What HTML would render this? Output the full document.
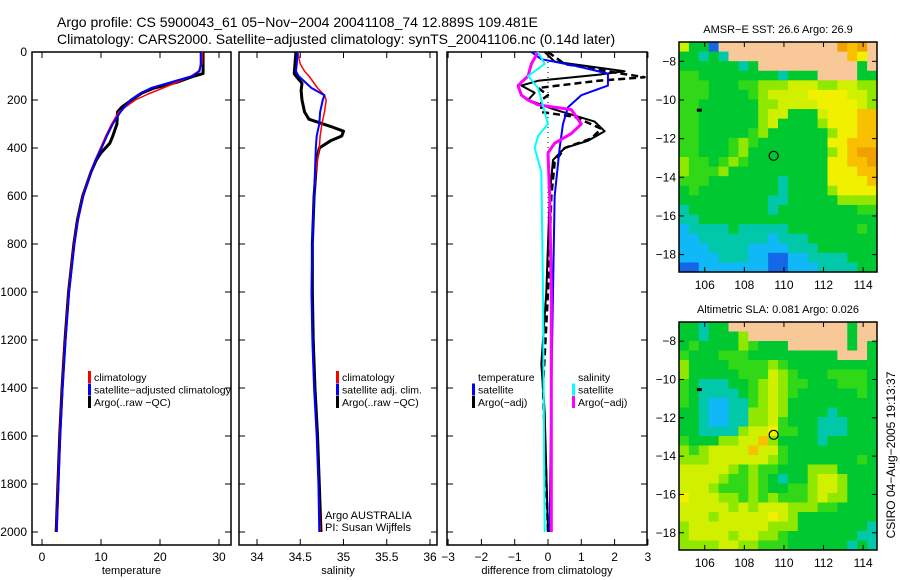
<!DOCTYPE html>
<html><head><meta charset="utf-8"><style>
body{margin:0;background:#fff;}
svg{display:block;font-family:"Liberation Sans",sans-serif;}
</style></head><body>
<svg id="s" width="900" height="580" viewBox="0 0 900 580">
<text x="57" y="27" font-size="14">Argo profile: CS 5900043_61 05−Nov−2004 20041108_74 12.889S 109.481E</text>
<text x="57" y="44" font-size="14">Climatology: CARS2000. Satellite−adjusted climatology: synTS_20041106.nc (0.14d later)</text>
</svg>
<script>
// ---- data ----
const tDepth=[0,50,80,100,125,150,175,200,250,300,350,400,450,500,600,700,800,1000,1200,1400,1600,1800,2000];
const tClim=[27.2,27.1,26.5,25.3,23,20.5,18,15.8,13,11.8,10.8,9.9,9.0,8.2,6.9,6.0,5.4,4.5,3.9,3.4,3.0,2.7,2.4];
const tSat=[26.9,26.9,26.7,25.5,22,18.5,16.5,15,13.3,12,11,10.1,9.1,8.3,7,6.1,5.5,4.6,4.0,3.5,3.1,2.8,2.5];
const tArgoDepth=[0,90,100,125,150,170,200,230,250,300,350,380,420,450,500,600,700,800,1000,1200,1400,1600,1800,2000];
const tArgo=[27.3,27.3,25.8,23,19,17,15.2,13.5,12.8,12.7,12,11.5,10,9.2,8.3,6.9,6.0,5.4,4.5,3.9,3.4,3.0,2.7,2.4];
const sDepth=[0,50,80,100,150,180,200,250,300,350,400,500,600,800,1000,1200,1400,1600,1800,2000];
const sClim=[34.47,34.5,34.55,34.6,34.7,34.78,34.8,34.78,34.75,34.73,34.72,34.68,34.66,34.64,34.63,34.64,34.66,34.69,34.71,34.73];
const sSat=[34.47,34.46,34.45,34.48,34.63,34.78,34.76,34.73,34.72,34.69,34.68,34.67,34.66,34.64,34.63,34.64,34.66,34.69,34.71,34.72];
const sArgoDepth=[0,90,100,130,160,200,250,280,310,330,350,370,400,450,600,800,1000,1200,1400,1600,1800,2000];
const sArgo=[34.45,34.43,34.45,34.52,34.51,34.52,34.55,34.6,34.85,35.0,34.98,34.85,34.72,34.69,34.66,34.64,34.64,34.65,34.67,34.7,34.72,34.74];
const dTSatDepth=[0,30,60,90,140,180,230,300,400,600,1000,1400,2000];
const dTSat=[-0.5,-0.2,0.9,1.8,1.8,1.0,0.6,0.45,0.35,0.2,0.15,0.1,0.05];
const dTArgoDepth=[0,40,80,95,120,140,170,200,240,290,330,370,400,450,600,1000,1300,1500,2000];
const dTArgo=[-0.1,0.2,2.3,1.5,-0.3,-0.8,-0.4,-0.6,0.2,1.4,1.7,1.2,0.5,0.15,0.05,-0.05,-0.2,-0.1,0];
const dTArgoDashDepth=[0,50,90,105,120,150,180,200,250,270,320,360,400,460,600,1000,1400,2000];
const dTArgoDash=[0,0.5,2.2,2.9,1.5,-0.3,0,-0.2,-0.2,0.8,1.6,1.3,0.5,0.2,0.1,0,-0.15,0];
const dSSatDepth=[0,50,100,150,200,250,300,350,400,500,1000,2000];
const dSSat=[-0.3,-0.1,-0.6,-0.3,-0.2,-0.1,0,-0.3,-0.4,-0.2,-0.15,-0.1];
const dSArgoDepth=[0,50,100,140,180,200,220,240,300,340,380,420,600,1000,2000];
const dSArgo=[-0.3,-0.5,-0.6,-0.9,-0.8,-0.6,-0.3,0.7,1.0,0.7,0.2,0,0.05,0.1,0.1];
const depthTicks=[0,200,400,600,800,1000,1200,1400,1600,1800,2000];
const tTicks=[0,10,20,30];
const sTicks=[34,34.5,35,35.5,36];
const dTicks=[-3,-2,-1,0,1,2,3];
const lonTicks=[106,108,110,112,114];
const latTicks=[-8,-10,-12,-14,-16,-18];
const sstRows=["yggbLLLLLLLLLLLLOoOL","ggtgtLLLLLLLLLLLLoYL","ggggggtgLLLLLLLLLLgL","GGggggggggtgggLLLLgg","GGGgggGGlllyyyllyyll","GGGggggGlyyyyYYYYyyl","GGggggggllyyyyYYYYyl","GGgggggglyygggyYYYoo","GGgggggglygggglYYYoo","GGgggggGlgggggglYYoo","GGgggGlGgggggggYYooo","GGgggGlgggggggglYoOO","lGGgGlGggggggggYYooO","lGGGlggggggggggYYYoo","GGGgggggggtggggYYYYo","gGggggggggtgggglYYYY","gggggggggttgggggllll","tggggggggtggggggggGG","ttgggggggggggggggggg","cttttgtttttgggggggGg","cctttttttctttggggggg","cccttttcccctttgggggg","cccctttccbbccttttggg","bbcccccccbbcccttttgg"];
const slaRows=["ggtggLLLLLLLLLLLLgLL","ggtggglLLLLLLLLLLgLL","gGgggglGgggLLLLLLgLg","GgggGGGgggggggggLLLg","lggggGGGGlGggggggggg","lgggggGGGylGgggGGGGg","GgtttggGlylGGgggGGGg","GgttttgGlylGggggggGg","GgtccttGlylggggggggg","ggtccttllylggggtgggg","ggtccttllyGgggtttggg","ggttttlyyYGGggtttggg","Ggggllyyolggggtggggg","lGlyyyyoyyGggggggggg","lllyyyyyylGgggggggGg","yyyyylGlGGggglllgggg","yyyylGGlGgtgglyylggg","yyylGGGlGggGGlyylggg","YyyyllGlGlGGGlyllggg","yyyyylylyyylllGGgggg","yyylyyyyyYylgggggggg","lyyyyyyyylllgggggggt","lyyyylyyllGgggggggtt","llllyyllGGGggggggtgt"];
const argoLon=109.481, argoLat=-12.889;

// ---- helpers ----
const NS="http://www.w3.org/2000/svg", svg=document.getElementById('s');
function mk(tag,attrs,parent){const e=document.createElementNS(NS,tag);for(const k in attrs)e.setAttribute(k,attrs[k]);(parent||svg).appendChild(e);return e;}
const Y0=52,YB=545;
const yD=d=>Y0+d*0.24;
const xT=v=>42+v*5.9;
const xS=v=>257+(v-34)*86.5;
const xDf=v=>548+v*33.3;
function line(xs,ds,xf,color,w,name,dash){
  const p=mk('polyline',{points:xs.map((v,i)=>xf(v)+','+yD(ds[i])).join(' '),fill:'none',stroke:color,'stroke-width':w,'stroke-linejoin':'round'});
  if(dash)p.setAttribute('stroke-dasharray',dash);
  
  
}
function txt(x,y,s,size,anchor,name){const t=mk('text',{x:x,y:y,'font-size':size,'text-anchor':anchor||'start'});t.textContent=s;
  
  return t;}
function panel(x0,x1,ticks,xf,name,title,labelY){
  const r=mk('rect',{x:x0,y:Y0,width:x1-x0,height:YB-Y0,fill:'none',stroke:'#000','stroke-width':1.5});
  
  
  ticks.forEach(v=>{const x=xf(v);
    mk('line',{x1:x,y1:Y0,x2:x,y2:Y0+6,stroke:'#000'});mk('line',{x1:x,y1:YB,x2:x,y2:YB-6,stroke:'#000'});
    txt(x,561,String(v).replace('-','−'),12,'middle',name+'-x-tick-label');});
  depthTicks.forEach(d=>{const y=yD(d);
    mk('line',{x1:x0,y1:y,x2:x0+6,y2:y,stroke:'#000'});mk('line',{x1:x1,y1:y,x2:x1-6,y2:y,stroke:'#000'});
    if(labelY)txt(27,y+4,String(d),12,'end','depth-tick-label');});
  txt((x0+x1)/2,574,title,11,'middle',name+'-x-axis-title');
}
function legend(x,y,items,name){items.forEach((it,i)=>{const yy=y+i*12.5;
  if(it[0]){const b=mk('rect',{x:x,y:yy-10,width:3,height:12,fill:it[0]});
    
    }
  txt(x+6,yy,it[1],10.5,'start',name+'-label');});}

// panel 1
panel(32,231,tTicks,xT,'temperature-panel','temperature',true);
line(tArgo,tArgoDepth,xT,'#000',3,'temperature-argo');
line(tClim,tDepth,xT,'#f00',1.5,'temperature-climatology');
line(tSat,tDepth,xT,'#00f',2,'temperature-satellite');
legend(88,381,[['#f00','climatology'],['#00f','satellite−adjusted climatology'],['#000','Argo(..raw −QC)']],'temperature-legend');
// panel 2
panel(239,437,sTicks,xS,'salinity-panel','salinity',false);
line(sArgo,sArgoDepth,xS,'#000',3,'salinity-argo');
line(sClim,sDepth,xS,'#f00',1.5,'salinity-climatology');
line(sSat,sDepth,xS,'#00f',2,'salinity-satellite');
legend(336,381,[['#f00','climatology'],['#00f','satellite adj. clim.'],['#000','Argo(..raw −QC)']],'salinity-legend');
txt(325,519,'Argo AUSTRALIA',11,'start','argo-australia-label');
txt(325,531,'PI: Susan Wijffels',11,'start','pi-label');
// panel 3
panel(447,647,dTicks,xDf,'difference-panel','difference from climatology',false);
mk('line',{x1:xDf(0),y1:Y0,x2:xDf(0),y2:yD(700),stroke:'#000','stroke-dasharray':'1 4'});
line(dTArgo,dTArgoDepth,xDf,'#000',2,'difference-temperature-argo');
line(dTArgoDash,dTArgoDashDepth,xDf,'#000',2.5,'difference-temperature-argo-adj','7 4');
line(dTSat,dTSatDepth,xDf,'#00f',2,'difference-temperature-satellite');
line(dSArgo,dSArgoDepth,xDf,'#f0f',3,'difference-salinity-argo');
line(dSSat,dSSatDepth,xDf,'#0ff',2,'difference-salinity-satellite');
legend(472,381,[[null,'temperature'],['#00f','satellite'],['#000','Argo(−adj)']],'difference-temperature-legend');
legend(572,381,[[null,'salinity'],['#0ff','satellite'],['#f0f','Argo(−adj)']],'difference-salinity-legend');

// maps
const pal={L:'#f8c898',b:'#1468e8',c:'#10b8f8',t:'#00c8a8',g:'#00c830',G:'#30d818',l:'#90e800',y:'#d0f000',Y:'#f0f000',o:'#f8c000',O:'#f0a000'};
function map(top,bottom,rows,title,name){
  const x0=679,x1=877,lon0=104.7,lon1=114.7,lat0=-7.0,lat1=-18.9;
  const xL=v=>x0+(v-lon0)*(x1-x0)/(lon1-lon0), yL=v=>top+(lat0-v)*(bottom-top)/(lat0-lat1);
  const g=mk('g',{});
  
  
  const nR=rows.length;
  rows.forEach((row,i)=>{for(let j=0;j<20;j++){const c=row[j]||'g';
    const la=lat0-i*(lat0-lat1)/nR, lo=lon0+j*(lon1-lon0)/20;
    mk('rect',{x:xL(lo),y:yL(la),width:(x1-x0)/20+0.5,height:(bottom-top)/nR+0.5,fill:pal[c]},g);}});
  mk('rect',{x:xL(105.6),y:yL(-10.45),width:5,height:3,fill:'#000'},g);
  const c=mk('circle',{cx:xL(argoLon),cy:yL(argoLat),r:4.5,fill:'none',stroke:'#000','stroke-width':1.2});
  
  
  const f=mk('rect',{x:x0,y:top,width:x1-x0,height:bottom-top,fill:'none',stroke:'#000','stroke-width':1.5});
  
  
  lonTicks.forEach(v=>{const x=xL(v);mk('line',{x1:x,y1:top,x2:x,y2:top+5,stroke:'#000'});mk('line',{x1:x,y1:bottom,x2:x,y2:bottom-5,stroke:'#000'});
    txt(x,bottom+17,String(v),12,'middle',name+'-lon-label');});
  latTicks.forEach(v=>{const y=yL(v);mk('line',{x1:x0,y1:y,x2:x0+5,y2:y,stroke:'#000'});mk('line',{x1:x1,y1:y,x2:x1-5,y2:y,stroke:'#000'});
    txt(x0-3,y+4,String(v).replace('-','−'),12,'end',name+'-lat-label');});
  txt((x0+x1)/2,top-9,title,11,'middle',name+'-title');
}
map(42,272,sstRows,'AMSR−E SST: 26.6 Argo: 26.9','sst-map');
map(322,550,slaRows,'Altimetric SLA: 0.081 Argo: 0.026','sla-map');
const cs=txt(0,0,'CSIRO 04−Aug−2005 19:13:37',12,'middle','csiro-timestamp');
cs.setAttribute('transform','translate(895,455) rotate(-90)');
</script>
</body></html>
